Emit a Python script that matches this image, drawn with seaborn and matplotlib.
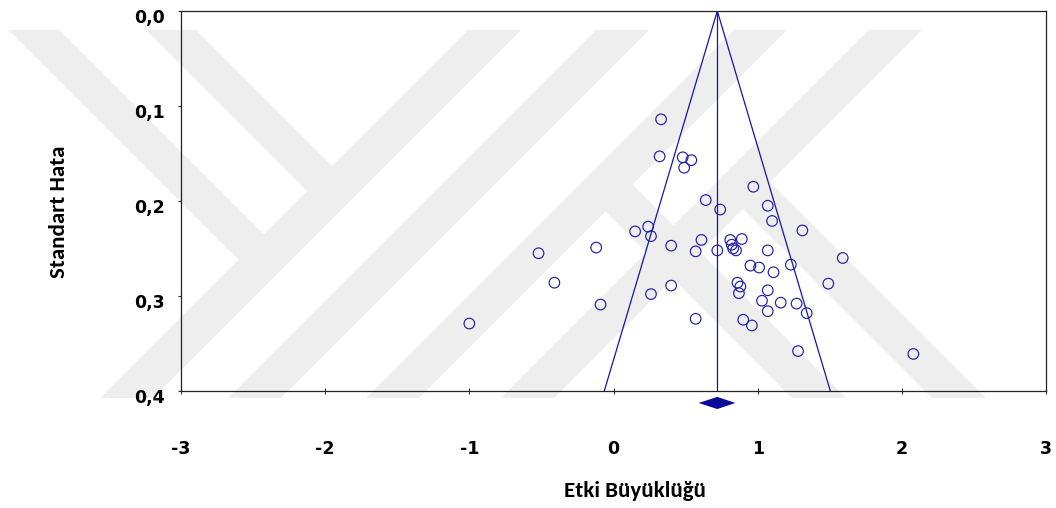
import numpy as np
import pandas as pd
import matplotlib.pyplot as plt
import matplotlib.transforms as mtransforms
import seaborn as sns

sns.set_theme(style="white")
plt.rcParams["font.family"] = ["DejaVu Sans"]
plt.rcParams["font.weight"] = "bold"
plt.rcParams["text.color"] = "black"
plt.rcParams["xtick.labelcolor"] = "black"
plt.rcParams["ytick.labelcolor"] = "black"

# ── data: effect sizes and standard errors of the studies ──────
effect = [0.33, 0.32, 0.48, 0.54, 0.49, 0.24, 0.15, 0.26, 0.40, -0.12,
          -0.52, -0.41, 0.40, 0.26, -0.09, 0.57, -1.00, 0.97, 0.64, 0.74,
          1.07, 1.10, 1.31, 0.61, 0.81, 0.89, 0.82, 0.83, 0.85, 0.57,
          0.72, 1.07, 1.59, 0.95, 1.01, 1.23, 1.11, 1.49, 0.86, 0.88,
          0.87, 1.07, 1.03, 1.16, 1.27, 1.34, 1.07, 0.90, 0.96, 1.28,
          2.08]
std_err = [0.114, 0.153, 0.154, 0.157, 0.165, 0.227, 0.232, 0.237, 0.247, 0.249,
           0.255, 0.286, 0.289, 0.298, 0.309, 0.324, 0.329, 0.185, 0.199, 0.209,
           0.205, 0.221, 0.231, 0.241, 0.241, 0.240, 0.246, 0.250, 0.252, 0.253,
           0.252, 0.252, 0.260, 0.268, 0.270, 0.267, 0.275, 0.287, 0.286, 0.290,
           0.297, 0.294, 0.305, 0.307, 0.308, 0.318, 0.316, 0.325, 0.331, 0.358,
           0.361]
pooled = 0.72
pooled_ci = [0.59, 0.845]

x_ticks = [-3, -2, -1, 0, 1, 2, 3]
y_ticks = [0.0, 0.1, 0.2, 0.3, 0.4]
y_tick_labels = ["0,0", "0,1", "0,2", "0,3", "0,4"]

df = pd.DataFrame({"effect": effect, "se": std_err})

BLUE = "#2020aa"
LINE = "#1414b4"
DIAMOND = "#0a0a9a"
MARK = "#eeeeee"

fig = plt.figure(figsize=(10.56, 5.08), dpi=100)

# ── faint diagonal watermark in the background (pixel space) ──
bg = fig.add_axes([0, 0, 1, 1], zorder=-1)
bg.set_xlim(0, 1056)
bg.set_ylim(508, 0)
bg.axis("off")
top, bot = 30, 398
for a in [498, 626, 764, 899]:          # "/" stripes, x+y in [a, a+53]
    b = a + 53
    bg.fill([a - top, b - top, b - bot, a - bot], [top, top, bot, bot],
            color=MARK, lw=0)
for c, e in [(-21, 498), (116, 498)]:   # "\" stripes ending on a "/" stripe
    d = c + 50
    bg.fill([c + top, d + top, (e + d) / 2, (e + c) / 2],
            [top, top, (e - d) / 2, (e - c) / 2], color=MARK, lw=0)
for c, e in [(394, 817), (534, 952)]:   # "\" stripes starting on a "/" stripe
    d = c + 54
    bg.fill([(e + c) / 2, (e + d) / 2, d + bot, c + bot],
            [(e - c) / 2, (e - d) / 2, bot, bot], color=MARK, lw=0)

# ── funnel plot ─────────────────────────────────────────────
ax = fig.add_axes([181 / 1056, 1 - 391 / 508, 865 / 1056, 380 / 508])
ax.set_facecolor("none")

se_max = y_ticks[-1]
half = 1.96 * se_max
ax.plot([pooled - half, pooled, pooled + half], [se_max, 0, se_max],
        color=LINE, lw=0.9)
ax.plot([pooled, pooled], [0, se_max], color=LINE, lw=0.9)

sns.scatterplot(data=df, x="effect", y="se", ax=ax, marker="o", s=58,
                facecolor="none", edgecolor=BLUE, linewidth=0.85, zorder=3)

dy = 0.0126
dh = 0.0064
ax.fill([pooled_ci[0], pooled, pooled_ci[1], pooled],
        [se_max + dy, se_max + dy - dh, se_max + dy, se_max + dy + dh],
        color=DIAMOND, lw=0, clip_on=False, zorder=4)

ax.set_xlim(x_ticks[0], x_ticks[-1])
ax.set_ylim(se_max, 0)
ax.set_xticks(x_ticks)
ax.set_xticklabels([f"{t}" for t in x_ticks], fontweight="bold")
ax.set_yticks(y_ticks)
ax.set_yticklabels(y_tick_labels, fontweight="bold")
ax.set_xlabel("")
ax.set_ylabel("")

for s in ax.spines.values():
    s.set_color("#222222")
    s.set_linewidth(0.9)
ax.tick_params(axis="y", direction="out", length=2.5, width=0.8, color="#333333",
               labelcolor="black", pad=9, labelsize=12.5, left=True)
ax.tick_params(axis="x", direction="inout", length=4.5, width=0.8, color="#333333",
               labelcolor="black", pad=33, labelsize=12.5, bottom=True)
offset = mtransforms.ScaledTranslation(0, -5 / 100, fig.dpi_scale_trans)
for lab in ax.get_yticklabels():
    lab.set_transform(lab.get_transform() + offset)

fig.text(635 / 1056, 1 - 491 / 508, "Etki Büyüklüğü", ha="center", va="center",
         fontsize=16.5, fontweight="bold", color="black",
         family=["Carlito", "DejaVu Sans"])
fig.text(59 / 1056, 1 - 212 / 508, "Standart Hata", ha="center", va="center",
         rotation=90, fontsize=16.5, fontweight="bold", color="black",
         family=["Carlito", "DejaVu Sans"])

plt.savefig("out.png", dpi=100)
plt.close()
